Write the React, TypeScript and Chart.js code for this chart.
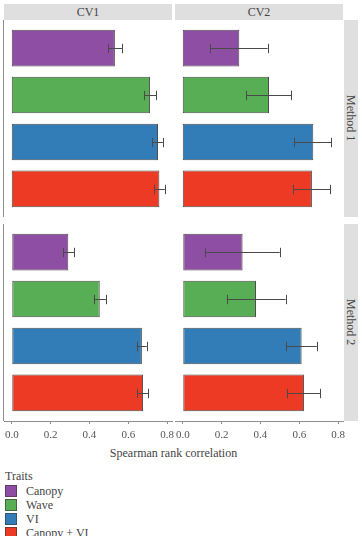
import React, { useEffect, useRef } from 'react';
import { Chart, registerables } from 'chart.js';

Chart.register(...registerables);

// ---------------- data ----------------
const traits = ['Canopy', 'Wave', 'VI', 'Canopy + VI'];
const traitColors = ['#8e4ea3', '#58ae54', '#327db8', '#ec3a25'];
const columnLabels = ['CV1', 'CV2'];
const rowLabels = ['Method 1', 'Method 2'];
const xTickValues = [0, 0.2, 0.4, 0.6, 0.8];
const axisTitle = 'Spearman rank correlation';
const legendTitle = 'Traits';

const cv1m1Mean = [0.531, 0.712, 0.753, 0.76];
const cv1m1Low = [0.495, 0.681, 0.722, 0.732];
const cv1m1High = [0.567, 0.743, 0.778, 0.788];

const cv2m1Mean = [0.291, 0.444, 0.672, 0.665];
const cv2m1Low = [0.142, 0.327, 0.574, 0.569];
const cv2m1High = [0.437, 0.559, 0.765, 0.76];

const cv1m2Mean = [0.291, 0.453, 0.67, 0.676];
const cv1m2Low = [0.265, 0.422, 0.643, 0.646];
const cv1m2High = [0.322, 0.485, 0.695, 0.703];

const cv2m2Mean = [0.308, 0.377, 0.612, 0.624];
const cv2m2Low = [0.113, 0.226, 0.531, 0.538];
const cv2m2High = [0.499, 0.53, 0.69, 0.708];

// ---------------- layout ----------------
const FONT = '"Liberation Serif", "Times New Roman", serif';
const PANEL_W = 168;
const PANEL_H = 197;
const COL_X = [4, 175];
const ROW_Y = [20, 224];
const STRIP_TOP = 4;
const STRIP_H = 16;
const RSTRIP_X = 344;
const RSTRIP_W = 14;
const SIDE_PAD = 12;
const AXIS_H = 24;
const X_MIN = -0.04;
const X_MAX = 0.825;
const STRIP_BG = '#dfdfdf';
const AXIS_COLOR = '#8f8f8f';

type PanelDef = {
  col: number;
  row: number;
  mean: number[];
  low: number[];
  high: number[];
};

const panels: PanelDef[] = [
  { col: 0, row: 0, mean: cv1m1Mean, low: cv1m1Low, high: cv1m1High },
  { col: 1, row: 0, mean: cv2m1Mean, low: cv2m1Low, high: cv2m1High },
  { col: 0, row: 1, mean: cv1m2Mean, low: cv1m2Low, high: cv1m2High },
  { col: 1, row: 1, mean: cv2m2Mean, low: cv2m2Low, high: cv2m2High },
];

function makeErrorPlugin(low: number[], high: number[], leftAxis: boolean) {
  return {
    id: 'errorBars',
    afterDatasetsDraw(chart: any) {
      const { ctx, chartArea } = chart;
      const xs = chart.scales.x;
      const ys = chart.scales.y;
      ctx.save();
      ctx.strokeStyle = '#4a4a4a';
      ctx.lineWidth = 1;
      low.forEach((lo, i) => {
        const y = Math.round(ys.getPixelForValue(i)) + 0.5;
        const x1 = xs.getPixelForValue(lo);
        const x2 = xs.getPixelForValue(high[i]);
        const h = Math.abs(ys.getPixelForValue(i + 0.1) - ys.getPixelForValue(i));
        ctx.beginPath();
        ctx.moveTo(x1, y);
        ctx.lineTo(x2, y);
        ctx.moveTo(Math.round(x1) + 0.5, y - h);
        ctx.lineTo(Math.round(x1) + 0.5, y + h);
        ctx.moveTo(Math.round(x2) + 0.5, y - h);
        ctx.lineTo(Math.round(x2) + 0.5, y + h);
        ctx.stroke();
      });
      if (leftAxis) {
        ctx.strokeStyle = AXIS_COLOR;
        ctx.beginPath();
        ctx.moveTo(chartArea.left - 0.5, chartArea.top);
        ctx.lineTo(chartArea.left - 0.5, chartArea.bottom);
        ctx.stroke();
      }
      ctx.restore();
    },
  };
}

function Panel({ def }: { def: PanelDef }) {
  const ref = useRef<HTMLCanvasElement | null>(null);
  const bottom = def.row === 1;
  const w = PANEL_W + 2 * SIDE_PAD;
  const h = PANEL_H + (bottom ? AXIS_H : 0);

  useEffect(() => {
    if (!ref.current) return;
    const chart = new Chart(ref.current, {
      type: 'bar',
      data: {
        datasets: [
          {
            data: def.mean.map((v, i) => ({ x: v, y: i })),
            backgroundColor: traitColors,
            borderColor: 'rgba(45,45,45,0.85)',
            borderWidth: 1,
            borderSkipped: false,
            barPercentage: 0.78,
            categoryPercentage: 1,
          },
        ],
      },
      options: {
        indexAxis: 'y',
        responsive: false,
        animation: false,
        devicePixelRatio: 1,
        layout: { padding: { left: SIDE_PAD, right: SIDE_PAD, top: 0, bottom: 0 } },
        plugins: { legend: { display: false }, tooltip: { enabled: false } },
        scales: {
          y: {
            type: 'linear',
            reverse: true,
            offset: false,
            min: -0.6,
            max: 3.6,
            display: false,
            grid: { offset: false },
            afterBuildTicks: (scale: any) => {
              scale.ticks = traits.map((_, i) => ({ value: i }));
            },
          },
          x: {
            type: 'linear',
            offset: false,
            min: X_MIN,
            max: X_MAX,
            display: bottom,
            afterBuildTicks: (scale: any) => {
              scale.ticks = xTickValues.map((v) => ({ value: v }));
            },
            afterFit: (scale: any) => {
              if (bottom) scale.height = AXIS_H;
              scale.paddingLeft = 0;
              scale.paddingRight = 0;
            },
            grid: {
              drawOnChartArea: false,
              drawTicks: true,
              tickLength: 3,
              color: AXIS_COLOR,
            },
            border: { display: true, color: AXIS_COLOR, width: 1 },
            ticks: {
              padding: 5,
              color: '#555',
              font: { family: FONT, size: 11 },
              maxRotation: 0,
              callback: (v: any) => Number(v).toFixed(1),
            },
          },
        },
      } as any,
      plugins: [makeErrorPlugin(def.low, def.high, def.col === 0)],
    });
    return () => chart.destroy();
  }, []);

  return (
    <canvas
      ref={ref}
      width={w}
      height={h}
      style={{
        position: 'absolute',
        left: COL_X[def.col] - SIDE_PAD,
        top: ROW_Y[def.row],
        width: w,
        height: h,
      }}
    />
  );
}

export default function App() {
  const textBase: React.CSSProperties = {
    position: 'absolute',
    fontFamily: FONT,
    color: '#444',
    whiteSpace: 'nowrap',
  };
  return (
    <div
      style={{
        position: 'absolute',
        left: 0,
        top: 0,
        width: 362,
        height: 536,
        overflow: 'hidden',
        background: '#fff',
      }}
    >
      {columnLabels.map((lab, i) => (
        <div
          key={lab}
          style={{
            ...textBase,
            left: COL_X[i],
            top: STRIP_TOP,
            width: PANEL_W,
            height: STRIP_H,
            lineHeight: STRIP_H + 'px',
            background: STRIP_BG,
            textAlign: 'center',
            fontSize: 12,
          }}
        >
          {lab}
        </div>
      ))}
      {rowLabels.map((lab, i) => (
        <div
          key={lab}
          style={{
            ...textBase,
            left: RSTRIP_X,
            top: ROW_Y[i],
            width: RSTRIP_W,
            height: PANEL_H,
            background: STRIP_BG,
            display: 'flex',
            alignItems: 'center',
            justifyContent: 'center',
            fontSize: 12,
          }}
        >
          <span style={{ writingMode: 'vertical-rl', lineHeight: '14px' }}>{lab}</span>
        </div>
      ))}
      {panels.map((p, i) => (
        <Panel key={i} def={p} />
      ))}
      <div
        style={{
          ...textBase,
          left: COL_X[0],
          top: 446,
          width: COL_X[1] + PANEL_W - COL_X[0],
          height: 14,
          lineHeight: '14px',
          textAlign: 'center',
          fontSize: 12,
        }}
      >
        {axisTitle}
      </div>
      <div style={{ ...textBase, left: 5, top: 469, height: 14, lineHeight: '14px', fontSize: 12 }}>
        {legendTitle}
      </div>
      {traits.map((t, i) => (
        <React.Fragment key={t}>
          <div
            style={{
              position: 'absolute',
              left: 5,
              top: 485 + 14 * i,
              width: 12,
              height: 12,
              boxSizing: 'border-box',
              background: traitColors[i],
              border: '1px solid rgba(55,55,55,0.6)',
            }}
          />
          <div
            style={{
              ...textBase,
              left: 26,
              top: 484 + 14 * i,
              height: 14,
              lineHeight: '14px',
              fontSize: 12,
            }}
          >
            {t}
          </div>
        </React.Fragment>
      ))}
    </div>
  );
}
